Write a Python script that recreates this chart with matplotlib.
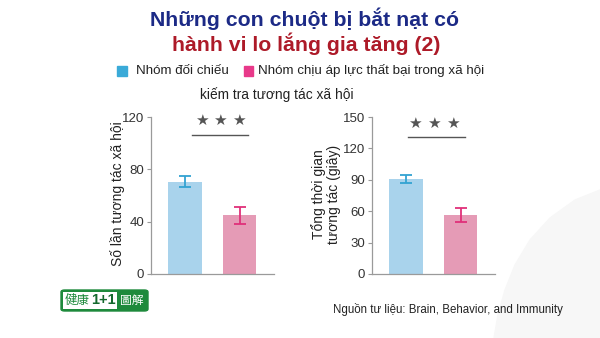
import matplotlib
matplotlib.use("Agg")
import matplotlib.pyplot as plt
from matplotlib.patches import FancyBboxPatch, Rectangle, Polygon

plt.rcParams['font.family'] = ['Liberation Sans', 'DejaVu Sans']

groups = ["Nhóm đối chiếu", "Nhóm chịu áp lực thất bại trong xã hội"]
left_values = [70.6, 44.8]
left_errors = [4.3, 6.3]
left_ticks = [0, 40, 80, 120]
right_values = [91, 56]
right_errors = [4, 6.7]
right_ticks = [0, 30, 60, 90, 120, 150]

bar_colors = ["#a9d3ec", "#e59bb6"]
err_colors = ["#33a3d2", "#e0307a"]
legend_colors = ["#3aaad8", "#e8398a"]

fig = plt.figure(figsize=(6, 3.38), dpi=100)
W, H = 600, 338

def fx(px):
    return px / W

def fy(py):
    return 1 - py / H

# faint curved background shape bottom right
curve = [(600, 190), (575, 200), (550, 218), (530, 240), (515, 265), (505, 290), (498, 315), (494, 338), (600, 338)]
fig.patches.append(Polygon([(fx(a), fy(b)) for a, b in curve], closed=True,
                           transform=fig.transFigure, color="#f7f7f7", zorder=0))

fig.text(0.508, fy(18.5), "Những con chuột bị bắt nạt có", ha="center", va="center",
         fontsize=15.3, fontweight="bold", color="#1c2a86")
fig.text(0.51, fy(44), "hành vi lo lắng gia tăng (2)", ha="center", va="center",
         fontsize=15.3, fontweight="bold", color="#ad1a28")

# legend
fig.patches.append(Rectangle((fx(117), fy(75.5)), 9.5 / W, 9.5 / H, transform=fig.transFigure,
                             color=legend_colors[0]))
fig.text(fx(136), fy(70.5), groups[0], ha="left", va="center", fontsize=9.6, color="#222222")
fig.patches.append(Rectangle((fx(243.5), fy(75.5)), 9.5 / W, 9.5 / H, transform=fig.transFigure,
                             color=legend_colors[1]))
fig.text(fx(257.5), fy(70.5), groups[1], ha="left", va="center", fontsize=9.6, color="#222222")

fig.text(fx(277), fy(95), "kiếm tra tương tác xã hội", ha="center", va="center",
         fontsize=9.9, color="#222222")

def make_axes(left_px, values, errors, ticks, ylabel, ylabel_x, line_x, line_y, star_x, star_y):
    ax = fig.add_axes([fx(left_px), fy(274), 123 / W, (274 - 117) / H])
    x = [0, 1]
    ax.bar(x, values, width=0.62, color=bar_colors, zorder=2)
    for i in range(2):
        ax.errorbar(x[i], values[i], yerr=errors[i], ecolor=err_colors[i], elinewidth=1.3,
                    capsize=4.5, capthick=1.3, fmt="none", zorder=3)
    ax.set_xlim(-0.624, 1.633)
    ax.set_ylim(0, ticks[-1])
    ax.set_yticks(ticks)
    ax.set_xticks([])
    for s in ["top", "right"]:
        ax.spines[s].set_visible(False)
    for s in ["left", "bottom"]:
        ax.spines[s].set_color("#9a9a9a")
        ax.spines[s].set_linewidth(0.9)
    ax.tick_params(axis="y", direction="out", length=3, color="#9a9a9a", labelsize=9.5,
                   labelcolor="#333333", pad=2)
    ax.patch.set_alpha(0)
    ax.plot(line_x, [line_y, line_y], color="#555555", lw=1.0, clip_on=False)
    for k in (-1, 0, 1):
        ax.text(star_x + k * 0.34, star_y, "★", ha="center", va="center", fontsize=11,
                color="#555555", family="DejaVu Sans", clip_on=False)
    fig.text(fx(ylabel_x), fy(194), ylabel, rotation=90, ha="center", va="center",
             fontsize=10, color="#222222", linespacing=1.05)
    return ax

make_axes(151, left_values, left_errors, left_ticks, "Số lần tương tác xã hội", 118,
          [0.13, 1.16], 106, 0.64, 117)
make_axes(372, right_values, right_errors, right_ticks, "Tổng thời gian\ntương tác (giây)", 326,
          [0.04, 1.08], 131, 0.51, 144)

# logo
green = "#1e8a3c"
fig.patches.append(FancyBboxPatch((fx(61), fy(311)), 87 / W, 21 / H,
                                  boxstyle="round,pad=0,rounding_size=0.006",
                                  transform=fig.transFigure, facecolor=green, edgecolor=green, lw=1))
fig.patches.append(Rectangle((fx(63), fy(309)), 54 / W, 17 / H, transform=fig.transFigure,
                             facecolor="white", edgecolor="none"))
fig.text(fx(64.5), fy(300.5), "健康", ha="left", va="center", fontsize=9,
         family=["Noto Sans CJK TC"], color=green)
fig.text(fx(91), fy(300.5), "1+1", ha="left", va="center", fontsize=10.5, fontweight="bold",
         color="#14692d")
fig.text(fx(120), fy(300.5), "圖解", ha="left", va="center", fontsize=8.5,
         family=["Noto Sans CJK TC"], color="white")

fig.text(fx(333), fy(309), "Nguồn tư liệu: Brain, Behavior, and Immunity", ha="left", va="center",
         fontsize=8.3, color="#222222")

fig.savefig("out.png", dpi=100)
